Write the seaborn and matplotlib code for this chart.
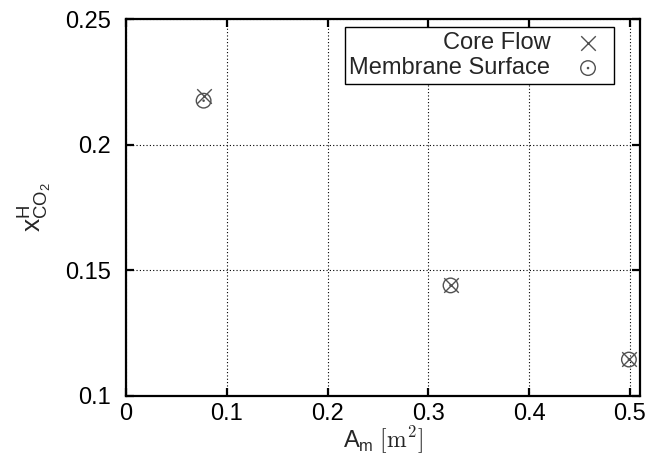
import matplotlib
matplotlib.use("Agg")
import matplotlib.pyplot as plt
from matplotlib.path import Path
import numpy as np
import pandas as pd
import seaborn as sns

# Membrane area [m^2] and CO2 mole fraction in the H-phase
area = [0.077, 0.322, 0.499]
core_flow = [0.2195, 0.1442, 0.1148]
membrane_surface = [0.2175, 0.1440, 0.1145]

series_names = ["Core Flow", "Membrane Surface"]
x_ticks = [0, 0.1, 0.2, 0.3, 0.4, 0.5]
y_ticks = [0.1, 0.15, 0.2, 0.25]

df = pd.DataFrame({
    "area": area * 2,
    "x": core_flow + membrane_surface,
    "series": [series_names[0]] * 3 + [series_names[1]] * 3,
})

sns.set_theme(style="ticks")
plt.rcParams["font.family"] = ["Liberation Sans", "DejaVu Sans"]
plt.rcParams["mathtext.fontset"] = "custom"
plt.rcParams["mathtext.rm"] = "cmr10"
plt.rcParams["mathtext.sf"] = "Liberation Sans"
plt.rcParams["mathtext.it"] = "Liberation Sans:italic"

fs = 17

fig = plt.figure(figsize=(6.51, 4.58), dpi=100)
ax = fig.add_axes([126 / 651, 1 - 396 / 458, 514 / 651, 377 / 458])

# open circle with a centre dot
dot_circle = Path.make_compound_path(Path.unit_circle(), Path.circle(radius=0.08))

mark_color = "#505050"
sub = df[df["series"] == series_names[0]]
sns.scatterplot(data=sub, x="area", y="x", marker="x", s=110, color=mark_color,
                linewidth=1.0, label=series_names[0], ax=ax, zorder=3)
sub = df[df["series"] == series_names[1]]
sns.scatterplot(data=sub, x="area", y="x", marker=dot_circle, s=110,
                facecolor="none", edgecolor=mark_color, linewidth=1.0,
                label=series_names[1], ax=ax, zorder=3)

ax.set_xlim(0, 0.51)
ax.set_ylim(0.1, 0.25)
ax.set_xticks(x_ticks)
ax.set_xticklabels(["0", "0.1", "0.2", "0.3", "0.4", "0.5"])
ax.set_yticks(y_ticks)
ax.set_yticklabels(["0.1", "0.15", "0.2", "0.25"])

ax.grid(True, color="black", linestyle=(0, (1, 2)), linewidth=0.8)
ax.set_axisbelow(True)

for sp in ax.spines.values():
    sp.set_linewidth(1.6)
    sp.set_color("black")
    sp.set_visible(True)

ax.tick_params(axis="both", which="major", direction="in", length=6, width=1.6,
               labelsize=fs, top=True, right=True, colors="black")
ax.tick_params(axis="x", pad=5)
ax.tick_params(axis="y", pad=11)

ax.set_xlabel(r"A$_\mathsf{m}$ $\mathrm{[m^2]}$", fontsize=fs, labelpad=0)
ax.set_ylabel(r"$\mathsf{x}^{\mathsf{H}}_{\mathsf{CO_2}}$", fontsize=19, labelpad=8)

leg = ax.legend(loc="upper right", bbox_to_anchor=(0.9494, 0.9788), borderaxespad=0,
                markerfirst=False, fancybox=False, frameon=True, fontsize=fs,
                edgecolor="black", framealpha=1, handletextpad=0.7,
                handlelength=1.8, borderpad=0.2, labelspacing=0.15)
leg.get_frame().set_linewidth(1.0)

fig.savefig("out.png", dpi=100)
